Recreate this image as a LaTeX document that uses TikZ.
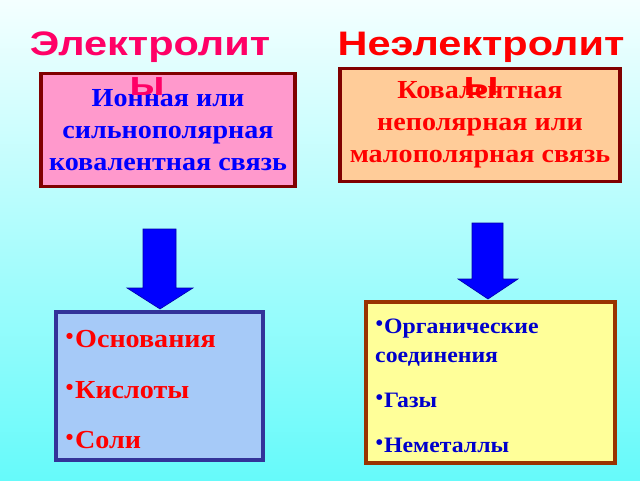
\documentclass[tikz,border=0pt]{standalone}
\usepackage{fontspec}
\setmainfont{Liberation Serif}[FakeStretch=1.08]
\newfontfamily\titlefont{Liberation Sans}[FakeStretch=1.22]
\newfontfamily\bulletfont{DejaVu Sans}
\definecolor{bgtop}{HTML}{F4FFFF}
\definecolor{bgbot}{HTML}{66FAFA}
\definecolor{titlea}{HTML}{FF0066}
\definecolor{titleb}{HTML}{FF0000}
\definecolor{pinkfill}{HTML}{FF99CC}
\definecolor{peachfill}{HTML}{FFCC99}
\definecolor{maroon}{HTML}{800000}
\definecolor{bluefill}{HTML}{A6CAF8}
\definecolor{blueedge}{HTML}{333399}
\definecolor{yellowfill}{HTML}{FFFF99}
\definecolor{brownedge}{HTML}{993300}
\definecolor{arrowfill}{HTML}{0000FF}
\definecolor{arrowedge}{HTML}{0000AA}
\definecolor{textblue}{HTML}{0000FF}
\definecolor{textblue2}{HTML}{0000CC}
\newcommand{\bigbul}{\makebox[9pt][l]{\bulletfont\fontsize{8}{8}\selectfont\raisebox{8.5pt}{●}}}
\newcommand{\smallbul}{\makebox[8pt][l]{\bulletfont\fontsize{7.5}{7.5}\selectfont\raisebox{7.5pt}{●}}}
\begin{document}
\begin{tikzpicture}[x=1pt,y=-1pt,
  titletext/.style={font=\titlefont\bfseries\fontsize{34}{40}\selectfont, inner sep=0pt},
  topbox/.style={draw=maroon, line width=3.5pt, inner sep=2pt, align=center,
     font=\bfseries\fontsize{26}{32}\selectfont},
  listbox/.style={line width=3.5pt, inner sep=0pt},
  listitem/.style={anchor=base west, inner sep=0pt},
  blockarrow/.style={fill=arrowfill, draw=arrowedge, line width=0.6pt, line join=miter}
]
\shade[top color=bgtop, bottom color=bgbot] (0,0) rectangle (640,480);
\useasboundingbox (0,0) rectangle (640,480);

% top boxes
\node[topbox, fill=pinkfill, text=textblue, minimum width=254pt, minimum height=113pt]
  (ion) at (168,130) {Ионная или\\сильнополярная\\ковалентная связь};
\node[topbox, fill=peachfill, text=titleb, minimum width=280pt, minimum height=113pt]
  (cov) at (480,125) {Ковалентная\\неполярная или\\малополярная связь};

% titles
\node[titletext, text=titlea, anchor=base] (ta1) at (150,55) {Электролит};
\node[titletext, text=titlea, anchor=base] (ta2) at (147,95) {ы};
\node[titletext, text=titleb, anchor=base] (tb1) at (481,55) {Неэлектролит};
\node[titletext, text=titleb, anchor=base] (tb2) at (481,95) {ы};

% arrows
\draw[blockarrow] (143,229) -- (176,229) -- (176,288) -- (193,288) -- (160,309)
  -- (127,288) -- (143,288) -- cycle;
\draw[blockarrow] (472,223) -- (503,223) -- (503,279) -- (518,279) -- (488,299)
  -- (458,279) -- (472,279) -- cycle;

% bottom boxes
\node[listbox, draw=blueedge, fill=bluefill, minimum width=207pt, minimum height=148pt]
  (elist) at (159.5,386) {};
\node[listbox, draw=brownedge, fill=yellowfill, minimum width=249pt, minimum height=161pt]
  (nlist) at (490.5,382.5) {};

\begin{scope}[every node/.style={listitem, text=titleb, font=\bfseries\fontsize{26}{30}\selectfont}]
\node (e1) at (66,347) {\bigbul Основания};
\node (e2) at (66,398) {\bigbul Кислоты};
\node (e3) at (66,448) {\bigbul Соли};
\end{scope}
\begin{scope}[every node/.style={listitem, text=textblue2, font=\bfseries\fontsize{22}{26}\selectfont}]
\node (n1) at (376,333) {\smallbul Органические};
\node (n1b) at (375,362) {соединения};
\node (n2) at (376,407) {\smallbul Газы};
\node (n3) at (376,452) {\smallbul Неметаллы};
\end{scope}
\end{tikzpicture}
\end{document}
